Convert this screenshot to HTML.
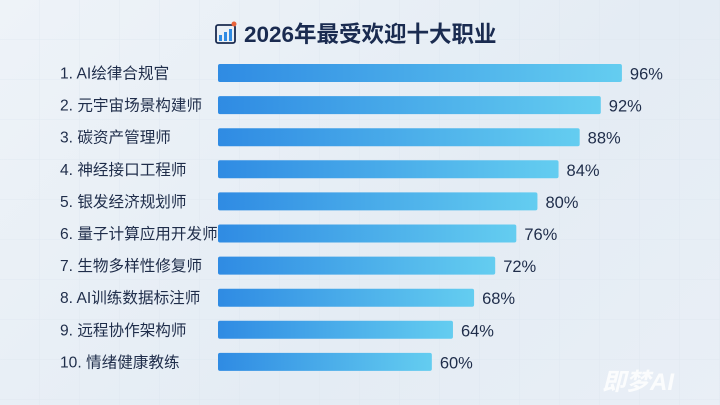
<!DOCTYPE html>
<html><head><meta charset="utf-8"><style>
body{margin:0;width:720px;height:405px;overflow:hidden;background:linear-gradient(135deg,#eef3f8,#e4ecf4 60%,#e9eff6);font-family:"Liberation Sans","Noto Sans CJK SC",sans-serif}
svg{display:block}
</style></head><body>
<svg id="chart" width="720" height="405">
<defs>
<linearGradient id="g" x1="0" x2="1"><stop offset="0" stop-color="#2f8be3"/><stop offset="1" stop-color="#64cdf0"/></linearGradient>
<pattern id="grid" width="40" height="40" patternUnits="userSpaceOnUse"><path d="M40 0V40H0" fill="none" stroke="#dbe4ee" stroke-width="1"/></pattern>
</defs>
<rect width="720" height="405" fill="url(#grid)" opacity="0.6"/>
<g>
<rect x="216" y="25" width="19" height="18" rx="2" fill="none" stroke="#1a2b50" stroke-width="1.8"/>
<rect x="219" y="35" width="3" height="6" fill="#2f8be3"/><rect x="224" y="32" width="3" height="9" fill="#2f8be3"/><rect x="229" y="29" width="3" height="12" fill="#2f8be3"/>
<circle cx="234" cy="24" r="2.5" fill="#e8623a"/>
</g>
<text x="244" y="42" font-size="22.5" font-weight="bold" fill="#1a2b50">2026年最受欢迎十大职业</text>
<g id="bars"></g>
<text x="602" y="390" font-size="24" font-style="italic" font-weight="bold" fill="#ffffff" opacity="0.85">即梦AI</text>
</svg>
<script>
const categories=["1. AI绘律合规官","2. 元宇宙场景构建师","3. 碳资产管理师","4. 神经接口工程师","5. 银发经济规划师","6. 量子计算应用开发师","7. 生物多样性修复师","8. AI训练数据标注师","9. 远程协作架构师","10. 情绪健康教练"];
const values=[96,92,88,84,80,76,72,68,64,60];
const valueLabels=["96%","92%","88%","84%","80%","76%","72%","68%","64%","60%"];
const x=v=>218+(v-19.5)*5.28;
const y=i=>64+i*32.1;
const g=document.getElementById('bars');
const NS='http://www.w3.org/2000/svg';
categories.forEach((c,i)=>{
 const t=document.createElementNS(NS,'text');
 t.setAttribute('x',60);t.setAttribute('y',y(i)+14.5);t.setAttribute('font-size',15.6);t.setAttribute('fill','#1f2d4a');
 t.textContent=c;
 
 
 g.appendChild(t);
 const r=document.createElementNS(NS,'rect');
 r.setAttribute('x',218);r.setAttribute('y',y(i));r.setAttribute('width',x(values[i])-218);r.setAttribute('height',18);r.setAttribute('rx',2);r.setAttribute('fill','url(#g)');
 
 
 g.appendChild(r);
 const v=document.createElementNS(NS,'text');
 v.setAttribute('x',x(values[i])+8);v.setAttribute('y',y(i)+15.5);v.setAttribute('font-size',16.5);v.setAttribute('fill','#1f2d4a');
 v.textContent=valueLabels[i];
 
 
 g.appendChild(v);
});
</script>
</body></html>
